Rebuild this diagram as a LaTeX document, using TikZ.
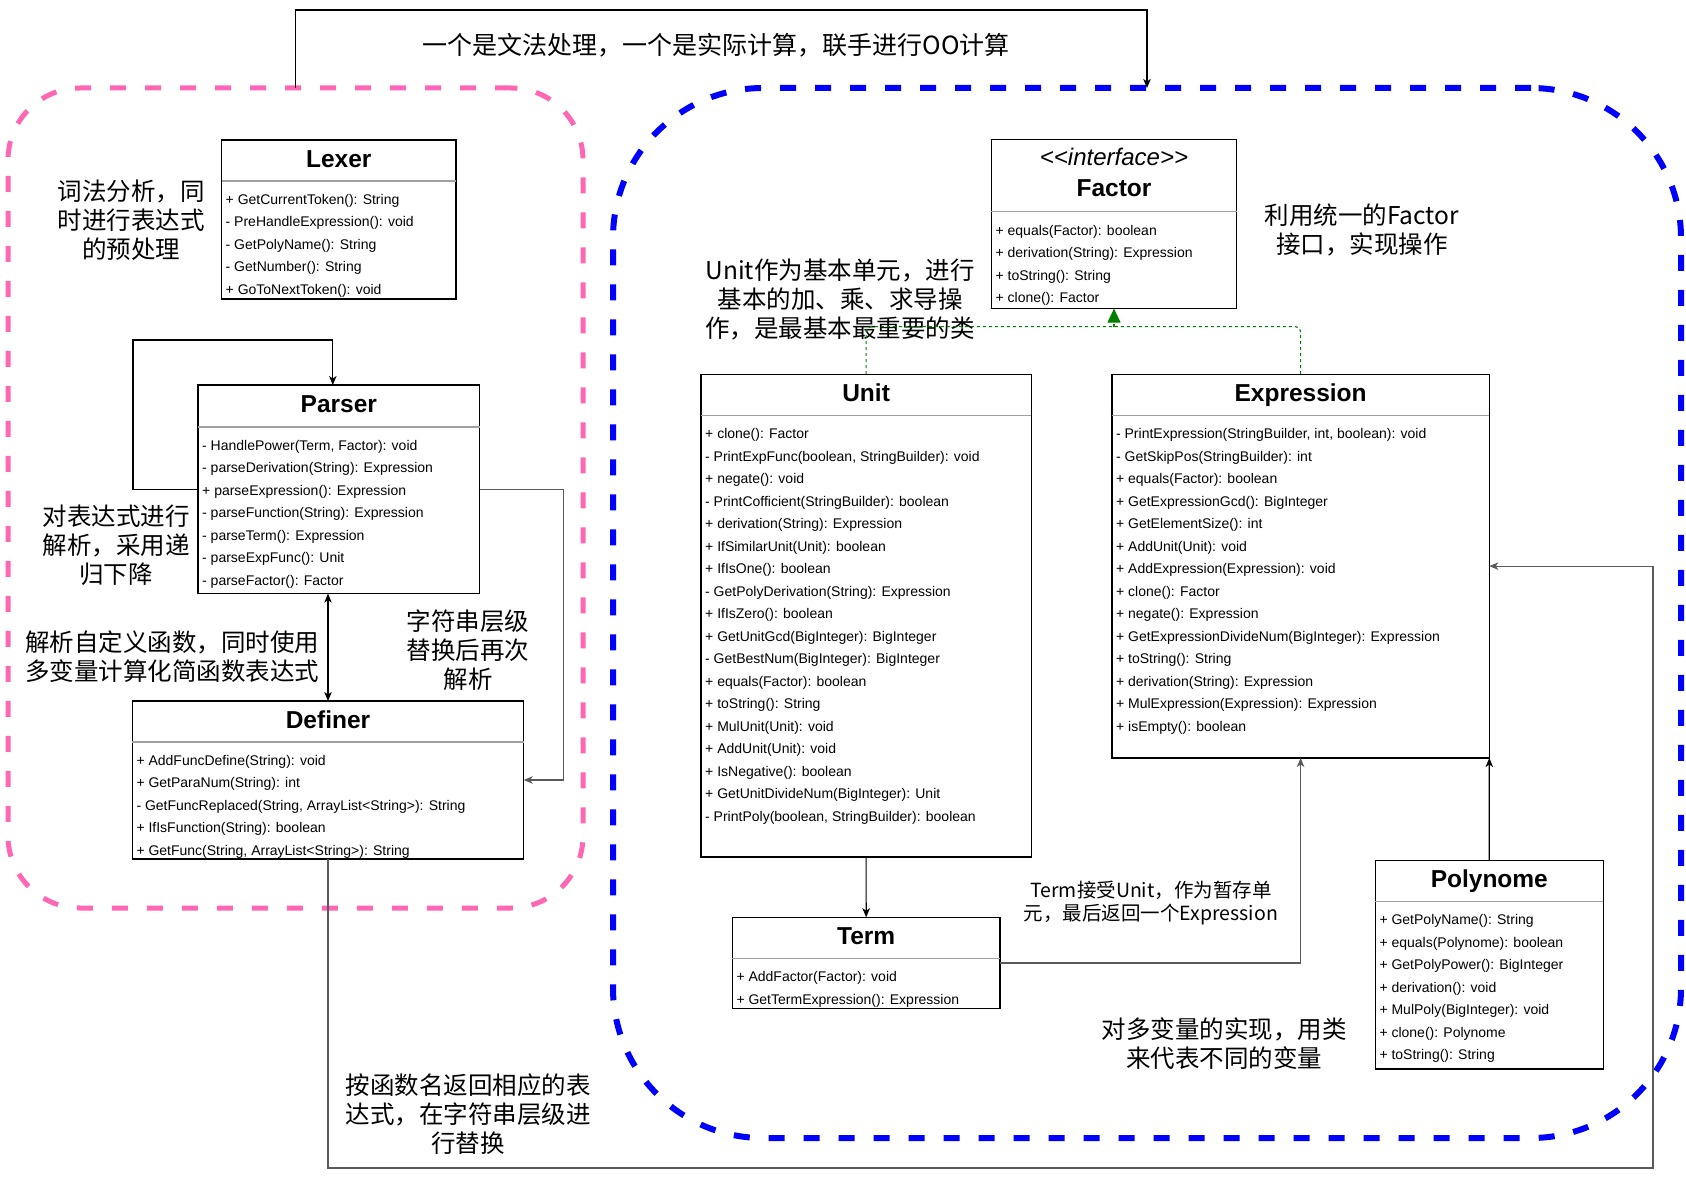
\documentclass[tikz,border=0pt]{standalone}
\usepackage{fontspec}
\setmainfont{Liberation Sans}
\newfontfamily\cjk{Noto Sans CJK SC}
\definecolor{zonepink}{RGB}{255,102,179}
\definecolor{zoneblue}{RGB}{0,0,255}
\definecolor{implgreen}{RGB}{0,128,0}
\definecolor{sepgray}{RGB}{160,160,160}
\definecolor{linegray}{RGB}{90,90,90}
\usetikzlibrary{arrows.meta,positioning,calc}
\tikzset{
  classbox/.style={draw=black, fill=white, line width=1.2pt, inner sep=0pt, outer sep=0pt, anchor=north west},
  classname/.style={font=\fontsize{24.5}{28}\selectfont\bfseries, inner sep=0pt, anchor=base},
  members/.style={font=\fontsize{14}{22.5}\selectfont, align=left, anchor=north west, inner sep=0pt},
  sepline/.style={draw=sepgray, line width=1.2pt},
  note/.style={font=\cjk\fontsize{24.5}{29}\selectfont, align=center, inner sep=0pt},
  conn/.style={draw=black, line width=1.2pt, ->},
  zone/.style={line width=5pt, dash pattern=on 16pt off 19pt, inner sep=0pt, outer sep=0pt, anchor=north west},
  impl/.style={draw=implgreen, line width=1.1pt, dash pattern=on 3pt off 3pt, rounded corners=5pt}
}

\begin{document}
\begin{tikzpicture}[x=1pt, y=-1pt, >={Stealth[length=9pt,width=7.5pt,inset=2.5pt]}]
  \useasboundingbox (0,0) rectangle (1686,1180);

  %% Zones
  \node[zone, draw=zonepink, rounded corners=72pt, minimum width=575pt, minimum height=820pt] (pinkzone) at (8,88) {};
  \node[zone, draw=zoneblue, line width=6pt, rounded corners=150pt, minimum width=1068pt, minimum height=1050pt] (bluezone) at (613,88) {};

  \draw[conn] (pinkzone.north) -- ++(0,-78) -| (bluezone.north);
  \node[note, font=\cjk\fontsize{25}{29}\selectfont] (toplabel) at (716,45) {一个是文法处理，一个是实际计算，联手进行OO计算};

  %% Lexer
  \node[classbox, minimum width=234.5pt, minimum height=159pt] (lexer) at (221.5,140) {};
  \node[classname] (lexername) at ([yshift=-27pt]lexer.north) {Lexer};
  \draw[sepline] ([yshift=-41pt]lexer.north west) -- ([yshift=-41pt]lexer.north east);
  \node[members] (lexerops) at ([xshift=4pt,yshift=-54pt]lexer.north west)
    {+ GetCurrentToken(): String\\- PreHandleExpression(): void\\- GetPolyName(): String\\- GetNumber(): String\\+ GoToNextToken(): void};
  \node[note] (lexernote) at (131,220) {词法分析，同\\时进行表达式\\的预处理};

  %% Parser
  \node[classbox, minimum width=281.6pt, minimum height=208.6pt] (parser) at (198,385) {};
  \node[classname] (parsername) at ([yshift=-27pt]parser.north) {Parser};
  \draw[sepline] ([yshift=-42pt]parser.north west) -- ([yshift=-42pt]parser.north east);
  \node[members] (parserops) at ([xshift=4pt,yshift=-55pt]parser.north west)
    {- HandlePower(Term, Factor): void\\- parseDerivation(String): Expression\\+ parseExpression(): Expression\\- parseFunction(String): Expression\\- parseTerm(): Expression\\- parseExpFunc(): Unit\\- parseFactor(): Factor};
  \node[note] (parsernote) at (116,545) {对表达式进行\\解析，采用递\\归下降};

  \draw[conn] (parser.west) -- ++(-65,0) |- ([xshift=-6pt,yshift=45pt]parser.north) -- ([xshift=-6pt]parser.north);

  %% Definer
  \node[classbox, minimum width=391.4pt, minimum height=158pt] (definer) at (132.3,701) {};
  \node[classname] (definername) at ([yshift=-27pt]definer.north) {Definer};
  \draw[sepline] ([yshift=-41pt]definer.north west) -- ([yshift=-41pt]definer.north east);
  \node[members] (definerops) at ([xshift=4pt,yshift=-54pt]definer.north west)
    {+ AddFuncDefine(String): void\\+ GetParaNum(String): int\\- GetFuncReplaced(String, ArrayList<String>): String\\+ IfIsFunction(String): boolean\\+ GetFunc(String, ArrayList<String>): String};
  \node[note] (definernote) at (172,657) {解析自定义函数，同时使用\\多变量计算化简函数表达式};
  \node[note] (reparsenote) at (468,650) {字符串层级\\替换后再次\\解析};

  \draw[conn, <->] (definer.north) -- (definer.north |- parser.south);
  \draw[conn, draw=linegray] (parser.east) -- ++(83.5,0) |- (definer.east);

  %% Factor
  \node[classbox, minimum width=245.2pt, minimum height=168.8pt] (factor) at (991.4,139.8) {};
  \node[font=\fontsize{24}{28}\selectfont\itshape, inner sep=0pt, anchor=base] (factorstereo) at ([yshift=-26pt]factor.north) {<\kern0pt<interface>\kern0pt>};
  \node[classname] (factorname) at ([yshift=-57pt]factor.north) {Factor};
  \draw[sepline] ([yshift=-72pt]factor.north west) -- ([yshift=-72pt]factor.north east);
  \node[members] (factorops) at ([xshift=4pt,yshift=-85pt]factor.north west)
    {+ equals(Factor): boolean\\+ derivation(String): Expression\\+ toString(): String\\+ clone(): Factor};
  \node[note] (factornote) at (1362,230) {利用统一的Factor\\接口，实现操作};

  %% Unit
  \node[classbox, minimum width=330.2pt, minimum height=482.8pt] (unit) at (701,374.2) {};
  \node[classname] (unitname) at ([yshift=-27pt]unit.north) {Unit};
  \draw[sepline] ([yshift=-41pt]unit.north west) -- ([yshift=-41pt]unit.north east);
  \node[members] (unitops) at ([xshift=4pt,yshift=-54pt]unit.north west)
    {+ clone(): Factor\\- PrintExpFunc(boolean, StringBuilder): void\\+ negate(): void\\- PrintCofficient(StringBuilder): boolean\\+ derivation(String): Expression\\+ IfSimilarUnit(Unit): boolean\\+ IfIsOne(): boolean\\- GetPolyDerivation(String): Expression\\+ IfIsZero(): boolean\\+ GetUnitGcd(BigInteger): BigInteger\\- GetBestNum(BigInteger): BigInteger\\+ equals(Factor): boolean\\+ toString(): String\\+ MulUnit(Unit): void\\+ AddUnit(Unit): void\\+ IsNegative(): boolean\\+ GetUnitDivideNum(BigInteger): Unit\\- PrintPoly(boolean, StringBuilder): boolean};
  \node[note] (unitnote) at (840,300) {Unit作为基本单元，进行\\基本的加、乘、求导操\\作，是最基本最重要的类};

  %% Expression
  \node[classbox, minimum width=377.4pt, minimum height=383.8pt] (expression) at (1111.9,374.2) {};
  \node[classname] (expressionname) at ([yshift=-27pt]expression.north) {Expression};
  \draw[sepline] ([yshift=-41pt]expression.north west) -- ([yshift=-41pt]expression.north east);
  \node[members] (expressionops) at ([xshift=4pt,yshift=-54pt]expression.north west)
    {- PrintExpression(StringBuilder, int, boolean): void\\- GetSkipPos(StringBuilder): int\\+ equals(Factor): boolean\\+ GetExpressionGcd(): BigInteger\\+ GetElementSize(): int\\+ AddUnit(Unit): void\\+ AddExpression(Expression): void\\+ clone(): Factor\\+ negate(): Expression\\+ GetExpressionDivideNum(BigInteger): Expression\\+ toString(): String\\+ derivation(String): Expression\\+ MulExpression(Expression): Expression\\+ isEmpty(): boolean};

  %% Realization of Factor
  \coordinate (factorjoin) at ($(factor.south)+(0,18)$);
  \draw[impl] (unit.north) |- (factorjoin);
  \draw[impl] (expression.north) |- (factorjoin);
  \draw[impl, -{Triangle[length=14pt,width=13pt]}] (factorjoin) -- (factor.south);

  %% Term
  \node[classbox, minimum width=267.7pt, minimum height=91.4pt] (term) at (732.3,917.2) {};
  \node[classname] (termname) at ([yshift=-27pt]term.north) {Term};
  \draw[sepline] ([yshift=-41pt]term.north west) -- ([yshift=-41pt]term.north east);
  \node[members] (termops) at ([xshift=4pt,yshift=-54pt]term.north west)
    {+ AddFactor(Factor): void\\+ GetTermExpression(): Expression};
  \node[note, font=\cjk\fontsize{19.5}{23.5}\selectfont] (termnote) at (1151,903) {Term接受Unit，作为暂存单\\元，最后返回一个Expression};

  \draw[conn] (unit.south) -- (term.north);
  \draw[conn, draw=linegray] (term.east) -| (expression.south);

  %% Polynome
  \node[classbox, minimum width=228pt, minimum height=208.7pt] (polynome) at (1375.3,860.2) {};
  \node[classname] (polynomename) at ([yshift=-27pt]polynome.north) {Polynome};
  \draw[sepline] ([yshift=-41pt]polynome.north west) -- ([yshift=-41pt]polynome.north east);
  \node[members] (polynomeops) at ([xshift=4pt,yshift=-54pt]polynome.north west)
    {+ GetPolyName(): String\\+ equals(Polynome): boolean\\+ GetPolyPower(): BigInteger\\+ derivation(): void\\+ MulPoly(BigInteger): void\\+ clone(): Polynome\\+ toString(): String};
  \node[note] (polynote) at (1224,1044) {对多变量的实现，用类\\来代表不同的变量};

  \draw[conn] (polynome.north) -- (expression.south east);

  %% Definer back to Expression
  \coordinate (bottomrun) at (1653,1168);
  \draw[conn, draw=linegray] (definer.south) |- (bottomrun) |- (expression.east);
  \node[note] (returnnote) at (468,1114) {按函数名返回相应的表\\达式，在字符串层级进\\行替换};
\end{tikzpicture}
\end{document}
